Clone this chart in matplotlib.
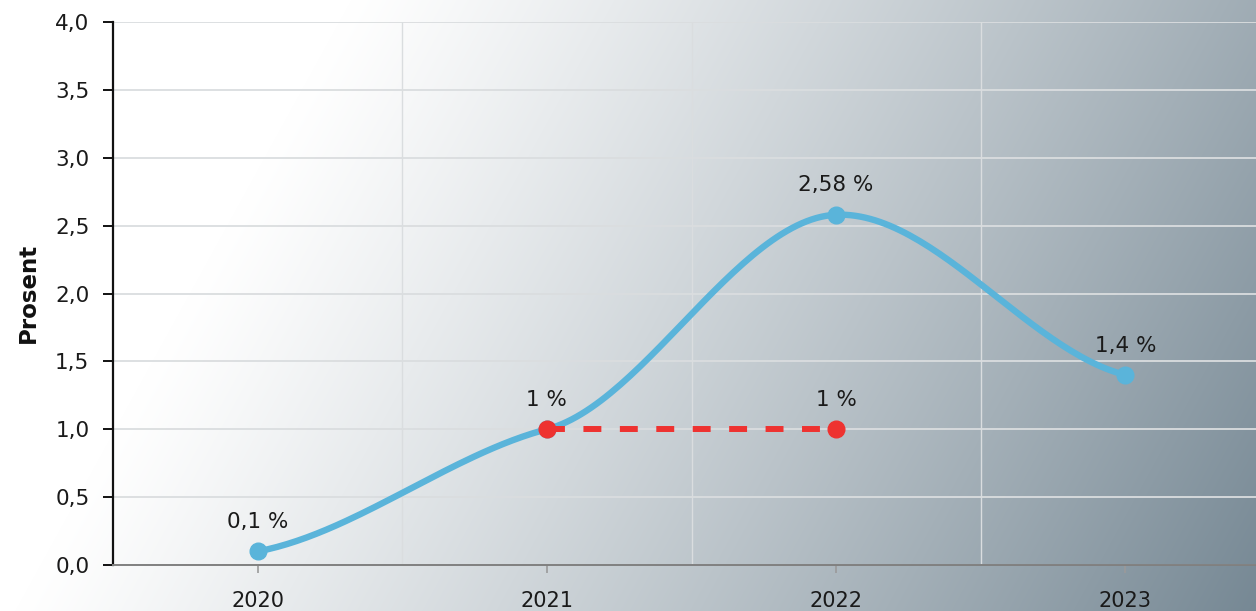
import matplotlib
matplotlib.use("Agg")
import matplotlib.pyplot as plt
from matplotlib.ticker import FuncFormatter, FixedLocator
import numpy as np

# data
years = ["2020", "2021", "2022", "2023"]
forecast = [0.1, 1.0, 2.58, 1.4]        # blue, smoothed
target_years = ["2021", "2022"]
target = [1.0, 1.0]                     # red dashed

blue = "#5ab4da"
red = "#ee3230"


def fmt_pct(v):
    return f"{v:g}".replace(".", ",") + " %"


def smooth(xs, ys, c=0.45, n=60):
    # cubic hermite with damped central-difference tangents
    xs = np.asarray(xs, float)
    ys = np.asarray(ys, float)
    m = np.zeros_like(ys)
    m[0] = c * (ys[1] - ys[0]) / (xs[1] - xs[0])
    m[-1] = c * (ys[-1] - ys[-2]) / (xs[-1] - xs[-2])
    for i in range(1, len(ys) - 1):
        m[i] = c * (ys[i + 1] - ys[i - 1]) / (xs[i + 1] - xs[i - 1])
    out_x, out_y = [], []
    for i in range(len(xs) - 1):
        h = xs[i + 1] - xs[i]
        t = np.linspace(0, 1, n)
        h00 = 2 * t**3 - 3 * t**2 + 1
        h10 = t**3 - 2 * t**2 + t
        h01 = -2 * t**3 + 3 * t**2
        h11 = t**3 - t**2
        out_x.append(xs[i] + t * h)
        out_y.append(h00 * ys[i] + h10 * h * m[i] + h01 * ys[i + 1] + h11 * h * m[i + 1])
    return np.concatenate(out_x), np.concatenate(out_y)


W, H = 1256, 611
fig = plt.figure(figsize=(W / 100, H / 100), dpi=100)

# background gradient, white top-left to grey-blue bottom-right
bg = fig.add_axes([0, 0, 1, 1], zorder=-1)
gx, gy = np.meshgrid(np.arange(W), np.arange(H))
s = (gx + 0.55 * gy) / (W + 0.55 * H)
t = np.clip((s - 0.22) / 0.78, 0, 1) ** 1.15
dark = np.array([0x76, 0x88, 0x94]) / 255
img = np.ones((H, W, 3)) * (1 - t[..., None]) + dark * t[..., None]
bg.imshow(img, aspect="auto", extent=(0, 1, 0, 1))
bg.axis("off")

ax = fig.add_axes([113 / W, 1 - 565 / H, 1 - 113 / W, (565 - 22) / H])
ax.set_facecolor("none")

x = np.arange(len(years))
sx, sy = smooth(x, forecast)
ax.plot(sx, sy, color=blue, lw=4.6, solid_capstyle="round", zorder=3)
ax.plot(x, forecast, "o", color=blue, ms=12, zorder=4)

tx = [years.index(y) for y in target_years]
ax.plot(tx, target, color=red, lw=4.3, dashes=(3, 3.1), zorder=5)
ax.plot(tx, target, "o", color=red, ms=12, zorder=6)

# point labels
for xi, v, yr in zip(x, forecast, years):
    if yr in target_years and v in target:
        continue
    ax.annotate(fmt_pct(v), (xi, v), xytext=(0, 14), textcoords="offset points",
                ha="center", va="bottom", fontsize=15.5, color="#1a1a1a")
for xi, v in zip(tx, target):
    ax.annotate(fmt_pct(v), (xi, v), xytext=(0, 14), textcoords="offset points",
                ha="center", va="bottom", fontsize=15.5, color="#1a1a1a")

ax.set_xlim(-0.5, 3.5 - 14 / 289)
ax.set_ylim(0, 4)
ax.set_xticks(x)
ax.set_xticklabels(years)
ax.xaxis.set_minor_locator(FixedLocator([0.5, 1.5, 2.5]))
ax.set_yticks(np.arange(0, 4.01, 0.5))
ax.yaxis.set_major_formatter(FuncFormatter(lambda v, p: f"{v:.1f}".replace(".", ",")))

ax.grid(axis="y", which="major", color="#dadddf", lw=1.3, zorder=0)
ax.grid(axis="x", which="minor", color="#dadddf", lw=1.0, zorder=0)
ax.set_axisbelow(True)

for sp in ["top", "right"]:
    ax.spines[sp].set_visible(False)
ax.spines["left"].set_color("#111111")
ax.spines["left"].set_linewidth(1.6)
ax.spines["bottom"].set_color("#808080")
ax.spines["bottom"].set_linewidth(1.4)

ax.tick_params(axis="y", length=7, width=1.4, color="#111111", pad=10,
               labelsize=15.5, labelcolor="#1a1a1a")
ax.tick_params(axis="x", which="major", length=6, width=1.2, color="#9a9a9a", pad=13,
               labelsize=15, labelcolor="#1a1a1a")
ax.tick_params(axis="x", which="minor", length=0)

fig.text(28 / W, 1 - 293 / H, "Prosent", rotation=90, ha="center", va="center",
         fontsize=16.5, fontweight="bold", color="#111111")

fig.savefig("out.png", dpi=100)
